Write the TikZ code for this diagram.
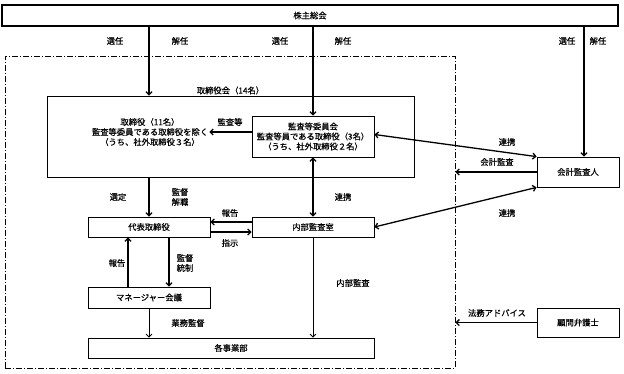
\documentclass[tikz,border=0pt]{standalone}
\usepackage{fontspec}
\setmainfont{Noto Sans CJK JP}[BoldFont=Noto Sans CJK JP,BoldFeatures={FakeBold=0.5}]
\usetikzlibrary{arrows.meta}
\begin{document}
\begin{tikzpicture}[x=1pt,y=-1pt,font=\fontsize{8.3}{10}\selectfont\bfseries,
    box/.style={draw,line width=0.8pt,inner sep=0pt,align=center},
    frame/.style={draw,line width=0.8pt,dash pattern=on 6pt off 2pt on 1pt off 2pt,inner sep=0pt},
    lab/.style={inner sep=1pt,align=center},
    arr/.style={line width=1.3pt,-{Straight Barb[length=3pt,width=6pt]}},
    darr/.style={line width=1.3pt,{Straight Barb[length=3pt,width=6pt]}-{Straight Barb[length=3pt,width=6pt]}},
    tarr/.style={line width=0.8pt,-{Straight Barb[length=3pt,width=6pt]}}]
  \useasboundingbox (0,0) rectangle (624,373);
  % boxes
  \node[box,line width=1.2pt,minimum width=616pt,minimum height=21pt] (soukai) at (310,15.5) {株主総会};
  \node[frame,minimum width=450pt,minimum height=312pt] (group) at (230,212) {};
  \node[box,minimum width=367pt,minimum height=81pt] (torikai) at (230.5,136.5) {};
  \node[lab,above] at (torikai.north) {取締役会（14名）};
  \node[lab] (tori) at (150,132) {取締役（11名）\\監査等委員である取締役を除く\\（うち、社外取締役３名）};
  \node[box,minimum width=122pt,minimum height=41pt] (iinkai) at (313,136.5) {監査等委員会\\監査等員である取締役（3名）\\（うち、社外取締役２名）};
  \node[box,minimum width=122pt,minimum height=20pt] (daihyo) at (149,227) {代表取締役};
  \node[box,minimum width=122pt,minimum height=20pt] (naibu) at (313,227) {内部監査室};
  \node[box,minimum width=122pt,minimum height=21pt] (mgr) at (149,297.5) {マネージャー会議};
  \node[box,minimum width=286pt,minimum height=20pt] (jigyo) at (231,348) {各事業部};
  \node[box,minimum width=82pt,minimum height=30pt] (kaikei) at (578,172) {会計監査人};
  \node[box,minimum width=82pt,minimum height=29pt] (bengo) at (578,322.5) {顧問弁護士};
  % connectors
  \draw[arr] (soukai.south -| daihyo.north) -- (torikai.north -| daihyo.north);
  \draw[arr] (soukai.south -| iinkai.north) -- (iinkai.north);
  \draw[arr] ([xshift=6pt]soukai.south -| kaikei.north) -- ([xshift=6pt]kaikei.north);
  \draw[arr] (iinkai.west |- tori.east) -- (tori.east);
  \draw[darr] ([yshift=2pt]iinkai.east) -- (kaikei.north west);
  \draw[arr] (kaikei.west) -- (kaikei.west -| group.east);
  \draw[darr] (kaikei.south west) -- (naibu.east);
  \draw[darr] (iinkai.south) -- (naibu.north);
  \draw[tarr] (naibu.south) -- (naibu.south |- jigyo.north);
  \draw[arr] (torikai.south -| daihyo.north) -- (daihyo.north);
  \draw[arr] ([yshift=5pt]naibu.west) -- ([yshift=5pt]daihyo.east);
  \draw[arr] ([yshift=-5pt]daihyo.east) -- ([yshift=-5pt]naibu.west);
  \draw[arr] ([xshift=-21pt]mgr.north) -- ([xshift=-21pt]daihyo.south);
  \draw[arr] ([xshift=20pt]daihyo.south) -- ([xshift=20pt]mgr.north);
  \draw[tarr] (mgr.south) -- (mgr.south |- jigyo.north);
  \draw[arr] (bengo.west) -- (bengo.west -| group.east);
  % labels
  \node[lab] (s1) at (115,41) {選任};
  \node[lab] (k1) at (180,41) {解任};
  \node[lab] (s2) at (280,41) {選任};
  \node[lab] (k2) at (343,41) {解任};
  \node[lab] (s3) at (567,41) {選任};
  \node[lab] (k3) at (598,41) {解任};
  \node[lab] (kansatou) at (230,122) {監査等};
  \node[lab] (renkei1) at (507,142) {連携};
  \node[lab] (kkansa) at (497,162) {会計監査};
  \node[lab] (renkei2) at (507,213) {連携};
  \node[lab] (renkei3) at (343,197) {連携};
  \node[lab] (sentei) at (118,197) {選定};
  \node[lab] (kaishoku) at (180,197) {監督\\解職};
  \node[lab] (houkoku1) at (230,213) {報告};
  \node[lab] (shiji) at (230,243) {指示};
  \node[lab] (houkoku2) at (117,263) {報告};
  \node[lab] (tousei) at (185,263) {監督\\統制};
  \node[lab] (gyomu) at (188,323) {業務監督};
  \node[lab] (nkansa) at (353,283) {内部監査};
  \node[lab] (houmu) at (497,313) {法務アドバイス};
\end{tikzpicture}
\end{document}
